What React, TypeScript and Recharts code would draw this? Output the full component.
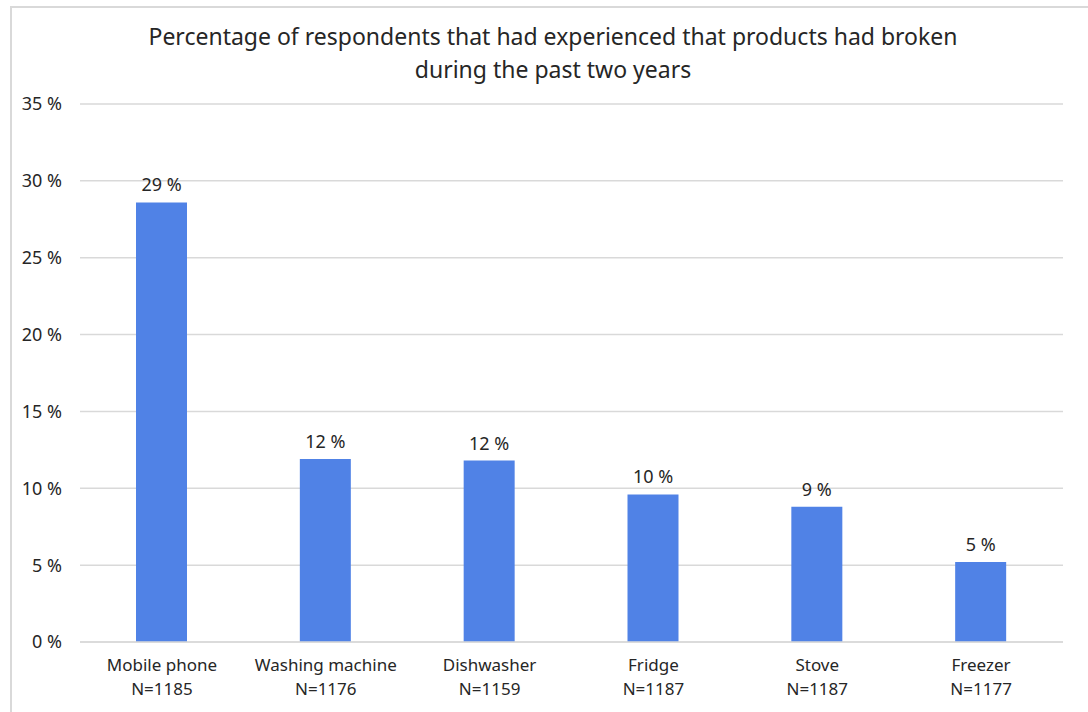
import { Bar, BarChart, CartesianGrid, LabelList, XAxis, YAxis } from "recharts";

const products = ["Mobile phone", "Washing machine", "Dishwasher", "Fridge", "Stove", "Freezer"];
const sampleSizes = [1185, 1176, 1159, 1187, 1187, 1177];
const brokenShare = [28.6, 11.9, 11.8, 9.6, 8.8, 5.2];
const yTicks = [0, 5, 10, 15, 20, 25, 30, 35];

const data = products.map((name, i) => ({ name, n: sampleSizes[i], value: brokenShare[i] }));

const FONT = "'Noto Sans', sans-serif";
const TEXT = "#262626";

function ProductTick(props: any) {
  const { x, y, payload } = props;
  const row = data[payload.index] ?? data.find((d) => d.name === payload.value);
  return (
    <text x={x} y={y} textAnchor="middle" fill={TEXT} fontSize={17} fontFamily={FONT}>
      <tspan x={x} dy={21}>{payload.value}</tspan>
      <tspan x={x} dy={24}>N={row?.n}</tspan>
    </text>
  );
}

export default function App() {
  return (
    <div style={{ position: "fixed", left: 0, top: 0, width: 1088, height: 712, background: "#fff", fontFamily: FONT }}>
      <div
        style={{
          position: "absolute",
          left: 10,
          top: 6,
          right: 0,
          bottom: 0,
          borderLeft: "2px solid #d9d9d9",
          borderTop: "2px solid #d9d9d9",
        }}
      />
      <div
        style={{
          position: "absolute",
          left: 0,
          width: 1106,
          top: 20,
          textAlign: "center",
          fontSize: 23,
          lineHeight: "33px",
          color: TEXT,
        }}
      >
        Percentage of respondents that had experienced that products had broken
        <br />
        during the past two years
      </div>
      <div style={{ position: "absolute", left: 0, top: 0 }}>
        <BarChart width={1088} height={712} data={data} margin={{ top: 104, right: 25, bottom: 10, left: 10 }}>
          <CartesianGrid vertical={false} stroke="#d9d9d9" strokeWidth={1.5} />
          <XAxis
            dataKey="name"
            height={60}
            tick={<ProductTick />}
            tickLine={false}
            axisLine={{ stroke: "#d9d9d9", strokeWidth: 1.5 }}
            interval={0}
          />
          <YAxis
            width={70}
            domain={[0, 35]}
            ticks={yTicks}
            tickFormatter={(v: number) => `${v} %`}
            tick={{ fill: TEXT, fontSize: 18, fontFamily: FONT }}
            tickSize={0}
            tickMargin={18}
            axisLine={false}
            tickLine={false}
          />
          <Bar dataKey="value" fill="#5082e6" barSize={51} isAnimationActive={false}>
            <LabelList
              dataKey="value"
              position="top"
              offset={11}
              formatter={(v: any) => `${Math.round(Number(v))} %`}
              style={{ fill: TEXT, fontSize: 18, fontFamily: FONT }}
            />
          </Bar>
        </BarChart>
      </div>
    </div>
  );
}
